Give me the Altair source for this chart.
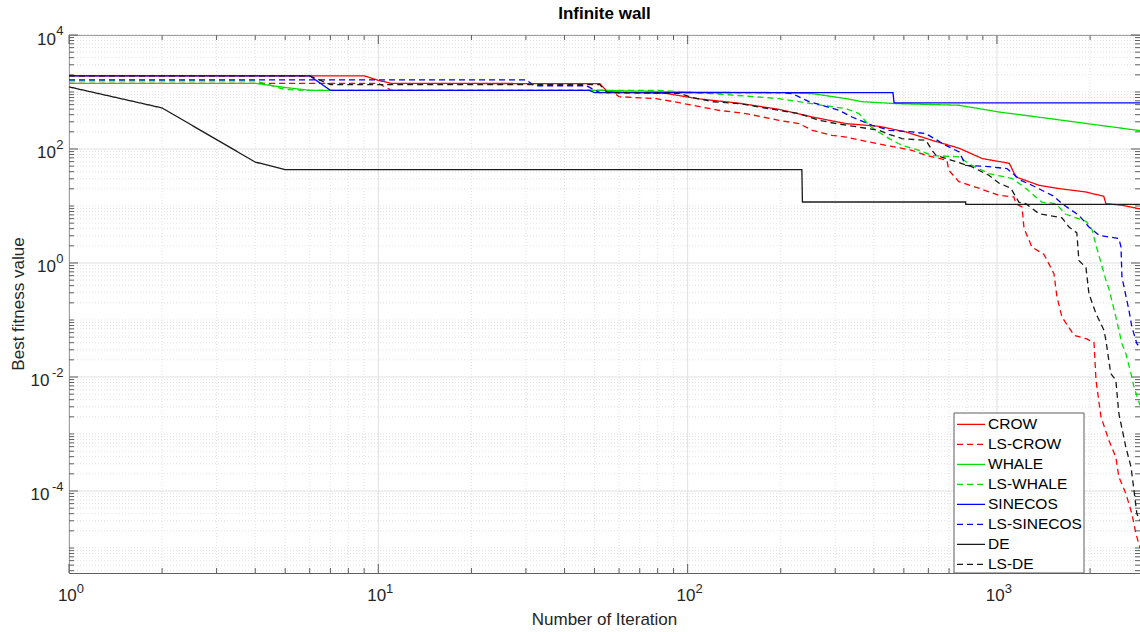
import altair as alt
import pandas as pd

# ---- series (iteration, best fitness) ----
SERIES = ["CROW", "LS-CROW", "WHALE", "LS-WHALE", "SINECOS", "LS-SINECOS", "DE", "LS-DE"]
COLORS = ["#ff0000", "#ff0000", "#00e000", "#00e000", "#0000ff", "#0000ff", "#1a1a1a", "#1a1a1a"]
DASHES = [[1, 0], [6, 4], [1, 0], [6, 4], [1, 0], [6, 4], [1, 0], [6, 4]]

crow_it = [1, 9, 10, 11, 52, 55, 85, 107, 147, 197, 253, 325, 416, 508, 617, 755, 896, 1096,
           1152, 1367, 1585, 1937, 2214, 2250, 2535, 2900]
crow_val = [1923, 1923, 1600, 1420, 1400, 1012, 948, 766, 634, 497, 364, 279, 250, 199, 142, 103,
            67.9, 56.1, 32.3, 23.1, 20.2, 17.6, 14.8, 11.0, 10.3, 8.9]

lscrow_it = [1, 10, 11, 55, 57, 60, 79, 94, 126, 154, 197, 229, 253, 293, 325, 377, 438, 531, 589,
             689, 699, 753, 874, 1014, 1134, 1152, 1205, 1223, 1297, 1418, 1528, 1563, 1622, 1774,
             1940, 2059, 2090, 2169, 2301, 2423, 2478, 2610, 2730, 2812, 2900]
lscrow_val = [1422, 1422, 1071, 1071, 1012, 828, 766, 649, 477, 418, 319, 279, 213, 174, 162, 136,
              116, 94.9, 77.5, 63.4, 42.3, 26.7, 20.5, 15.4, 14.4, 11.0, 9.6, 4.06, 1.91, 1.42,
              0.652, 0.254, 0.113, 0.054, 0.047, 0.0406, 0.00875, 0.00199, 7.7e-4, 3.9e-4,
              1.76e-4, 9.0e-5, 4.0e-5, 1.79e-5, 1.0e-5]

whale_it = [1, 4, 5, 6, 50, 100, 200, 253, 325, 366, 472, 755, 1014, 1456, 1928, 2900]
whale_val = [1422, 1422, 1200, 1071, 1071, 1000, 976, 937, 766, 676, 626, 585, 446, 346, 282, 210]

lswhale_it = [1, 4, 5, 6, 80, 120, 197, 229, 272, 325, 358, 386, 406, 448, 493, 560, 617, 755, 809,
              941, 1117, 1239, 1396, 1549, 1670, 1940, 2028, 2090, 2251, 2300, 2423, 2535, 2610,
              2712, 2773, 2900]
lswhale_val = [1570, 1570, 1100, 1071, 1071, 937, 766, 676, 585, 512, 418, 261, 213, 152, 116, 94.9,
               76.9, 73, 55.5, 37, 30.6, 20.5, 11.7, 11.0, 7.15, 5.4, 3.9, 2.05, 0.497, 0.356,
               0.113, 0.0385, 0.0258, 0.0115, 0.00668, 0.0032]

sinecos_it = [1, 6, 7, 48, 50, 461, 465, 2900]
sinecos_val = [1923, 1923, 1071, 1071, 976, 976, 644, 644]

lssinecos_it = [1, 30, 32, 47, 52, 200, 218, 247, 272, 309, 340, 395, 448, 531, 589, 683, 755, 792,
                940, 1077, 1195, 1297, 1528, 1622, 1840, 1983, 2137, 2478, 2518, 2535, 2671, 2730,
                2833, 2900]
lssinecos_val = [1637, 1637, 1288, 1288, 976, 976, 937, 676, 585, 477, 364, 261, 213, 199, 186, 116,
                 88.5, 51.8, 49, 45.3, 28.2, 23.1, 14.8, 11.0, 6.87, 4.28, 3.06, 2.68, 1.91, 0.568,
                 0.148, 0.0754, 0.0385, 0.033]

de_it = [1, 2, 3, 4, 5, 234, 235, 792, 793, 2900]
de_val = [1230, 525, 146, 59, 43.5, 43.5, 11.75, 11.75, 10.7, 10.7]

lsde_it = [1, 6, 7, 52, 55, 94, 103, 120, 147, 197, 229, 266, 302, 350, 416, 448, 493, 589, 617,
           635, 714, 828, 941, 1014, 1109, 1177, 1239, 1366, 1622, 1709, 1812, 1840, 1940, 1983,
           2090, 2218, 2250, 2333, 2423, 2478, 2610, 2712, 2773, 2833, 2900]
lsde_val = [1923, 1923, 1349, 1349, 976, 948, 807, 676, 626, 477, 418, 319, 279, 246, 213, 181, 152,
            142, 94.9, 77.5, 63.4, 48.9, 34.6, 25.3, 20.5, 11.7, 11.0, 7.35, 6.2, 4.28, 3.39, 1.11,
            0.824, 0.29, 0.129, 0.0659, 0.044, 0.0115, 0.00875, 0.00228, 5.9e-4, 2.64e-4,
            1.03e-4, 4.0e-5, 3.0e-5]

# ---- axes ----
X_MAX = 2900
Y_MIN = 10 ** -5.4386
Y_MAX = 1e4
X_MAJOR_EXP = [0, 1, 2, 3]
Y_MAJOR_EXP = [-4, -2, 0, 2, 4]
X_MINOR = [k * 10 ** e for e in range(0, 4) for k in range(2, 10) if k * 10 ** e <= X_MAX]
Y_MINOR = [k * 10.0 ** e for e in range(-6, 4) for k in range(1, 10)
           if not (k == 1 and e % 2 == 0) and Y_MIN <= k * 10.0 ** e <= Y_MAX]

W, H = 1071, 538
FONT = "Liberation Sans"
FRAME = "#5f5f5f"
TEXT = "#262626"

curves = {
    "CROW": (crow_it, crow_val), "LS-CROW": (lscrow_it, lscrow_val),
    "WHALE": (whale_it, whale_val), "LS-WHALE": (lswhale_it, lswhale_val),
    "SINECOS": (sinecos_it, sinecos_val), "LS-SINECOS": (lssinecos_it, lssinecos_val),
    "DE": (de_it, de_val), "LS-DE": (lsde_it, lsde_val),
}
rows = []
for order, name in enumerate(SERIES):
    its, vals = curves[name]
    for i, v in zip(its, vals):
        rows.append({"series": name, "it": i, "val": v, "k": order})
lines_df = pd.DataFrame(rows)

xscale = alt.Scale(type="log", domain=[1, X_MAX], nice=False)
yscale = alt.Scale(type="log", domain=[Y_MIN, Y_MAX], nice=False)
cscale = alt.Scale(domain=SERIES, range=COLORS)
dscale = alt.Scale(domain=SERIES, range=DASHES)

xmaj = pd.DataFrame({"e": X_MAJOR_EXP, "v": [10.0 ** e for e in X_MAJOR_EXP],
                     "es": [str(e) for e in X_MAJOR_EXP]})
ymaj = pd.DataFrame({"e": Y_MAJOR_EXP, "v": [10.0 ** e for e in Y_MAJOR_EXP],
                     "es": [str(e) for e in Y_MAJOR_EXP]})
xmin_df = pd.DataFrame({"v": X_MINOR})
ymin_df = pd.DataFrame({"v": Y_MINOR})

X = lambda f="v": alt.X(f + ":Q", scale=xscale, axis=None)
Y = lambda f="v": alt.Y(f + ":Q", scale=yscale, axis=None)

# grid: dotted minor lines, solid light major lines
grid = [
    alt.Chart(xmin_df).mark_rule(color="#e2e2e2", strokeDash=[1, 2], strokeWidth=1).encode(x=X()),
    alt.Chart(ymin_df).mark_rule(color="#e2e2e2", strokeDash=[1, 2], strokeWidth=1).encode(y=Y()),
    alt.Chart(xmaj).mark_rule(color="#e0e0e0", strokeWidth=1).encode(x=X()),
    alt.Chart(ymaj).mark_rule(color="#e0e0e0", strokeWidth=1).encode(y=Y()),
]

# inward ticks on all four sides
def xticks(df, length):
    return [
        alt.Chart(df).mark_rule(color=FRAME).encode(x=X(), y=alt.value(H), y2=alt.value(H - length)),
        alt.Chart(df).mark_rule(color=FRAME).encode(x=X(), y=alt.value(0), y2=alt.value(length)),
    ]

def yticks(df, length):
    return [
        alt.Chart(df).mark_rule(color=FRAME).encode(y=Y(), x=alt.value(0), x2=alt.value(length)),
        alt.Chart(df).mark_rule(color=FRAME).encode(y=Y(), x=alt.value(W), x2=alt.value(W - length)),
    ]

ticks = xticks(xmaj, 9) + xticks(xmin_df, 5) + yticks(ymaj, 9) + yticks(ymin_df, 5)

# curves
curve_layer = alt.Chart(lines_df).mark_line(strokeWidth=1.3, clip=True).encode(
    x=X("it"), y=Y("val"),
    color=alt.Color("series:N", scale=cscale, legend=None),
    strokeDash=alt.StrokeDash("series:N", scale=dscale, legend=None),
    order=alt.Order("it:Q"),
)

# tick labels: 10 with a raised exponent
label_base = dict(font=FONT, color=TEXT)
xlab = [
    alt.Chart(xmaj).mark_text(align="right", baseline="middle", fontSize=17, dx=7.8, **label_base)
    .encode(x=X(), y=alt.value(H + 23), text=alt.value("10")),
    alt.Chart(xmaj).mark_text(align="left", baseline="middle", fontSize=13, dx=7.8, **label_base)
    .encode(x=X(), y=alt.value(H + 15.5), text="es:N"),
]
ylab = [
    alt.Chart(ymaj).mark_text(align="right", baseline="middle", fontSize=13, dy=-4, **label_base)
    .encode(x=alt.value(-5.5), y=Y(), text="es:N"),
    alt.Chart(ymaj).transform_filter("datum.e >= 0")
    .mark_text(align="right", baseline="middle", fontSize=17, dy=4.5, **label_base)
    .encode(x=alt.value(-13), y=Y(), text=alt.value("10")),
    alt.Chart(ymaj).transform_filter("datum.e < 0")
    .mark_text(align="right", baseline="middle", fontSize=17, dy=4.5, **label_base)
    .encode(x=alt.value(-19.5), y=Y(), text=alt.value("10")),
]

# titles
one = lambda t: pd.DataFrame({"t": [t]})
titles = [
    alt.Chart(one("Infinite wall")).mark_text(font=FONT, fontSize=17, fontWeight="bold", color="#000",
                                              baseline="middle")
    .encode(x=alt.value(W / 2), y=alt.value(-21), text="t:N"),
    alt.Chart(one("Number of Iteration")).mark_text(font=FONT, fontSize=17, color=TEXT, baseline="middle")
    .encode(x=alt.value(W / 2), y=alt.value(H + 47), text="t:N"),
    alt.Chart(one("Best fitness value")).mark_text(font=FONT, fontSize=17, color=TEXT, baseline="middle",
                                                   angle=270)
    .encode(x=alt.value(-50), y=alt.value(H / 2), text="t:N"),
]

# legend box in the lower right corner
LX, LY, LW = 885, 378, 130
leg_df = pd.DataFrame({"series": SERIES, "row": list(range(len(SERIES)))})
legend = [
    alt.Chart(one("")).mark_rect(fill="white", stroke=FRAME, strokeWidth=1).encode(
        x=alt.value(LX), x2=alt.value(LX + LW), y=alt.value(LY), y2=alt.value(H)),
    alt.Chart(leg_df).transform_calculate(ly=f"{LY + 11.3} + datum.row * 20")
    .mark_rule(strokeWidth=1.3).encode(
        x=alt.value(LX + 3), x2=alt.value(LX + 31), y=alt.Y("ly:Q", scale=None),
        color=alt.Color("series:N", scale=cscale, legend=None),
        strokeDash=alt.StrokeDash("series:N", scale=dscale, legend=None)),
    alt.Chart(leg_df).transform_calculate(ly=f"{LY + 11.3} + datum.row * 20")
    .mark_text(align="left", baseline="middle", font=FONT, fontSize=15.5, color="#000").encode(
        x=alt.value(LX + 34), y=alt.Y("ly:Q", scale=None), text="series:N"),
]

chart = alt.layer(*grid, *ticks, curve_layer, *xlab, *ylab, *titles, *legend).resolve_scale(
    x="independent", y="independent"
).properties(
    width=W, height=H,
    autosize=alt.AutoSizeParams(type="none"),
    padding={"left": 69, "top": 35, "right": 0, "bottom": 59},
).configure(background="white").configure_view(stroke=FRAME, strokeWidth=1)

chart.save("out.html", embed_options={"renderer": "svg", "actions": False})
